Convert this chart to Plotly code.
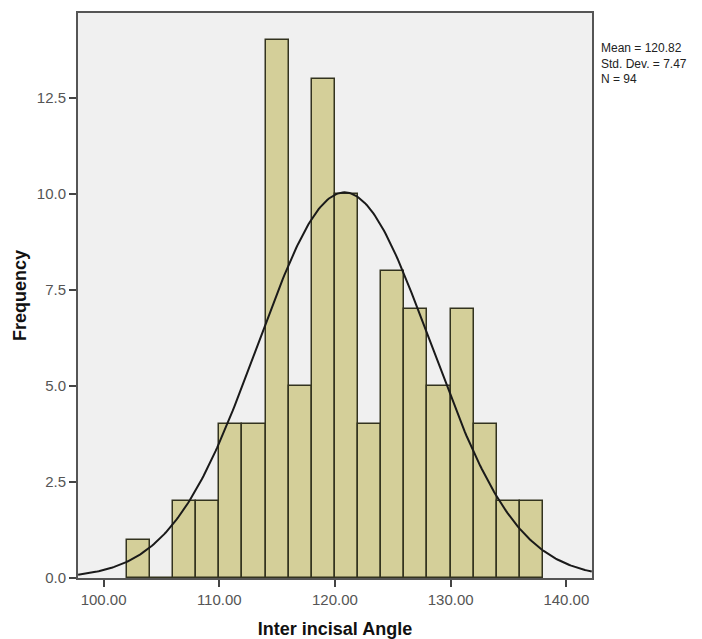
import numpy as np
import plotly.graph_objects as go

bin_starts = [102, 104, 106, 108, 110, 112, 114, 116, 118, 120, 122, 124, 126, 128, 130, 132, 134, 136]
counts = [1, 0, 2, 2, 4, 4, 14, 5, 13, 10, 4, 8, 7, 5, 7, 4, 2, 2]
bin_width = 2
mean_val = 120.82
sd_val = 7.47
n_val = 94
stats_lines = ["Mean = 120.82", "Std. Dev. = 7.47", "N = 94"]
x_ticks = [100, 110, 120, 130, 140]
x_tick_labels = ["100.00", "110.00", "120.00", "130.00", "140.00"]
y_ticks = [0, 2.5, 5, 7.5, 10, 12.5]
y_tick_labels = ["0.0", "2.5", "5.0", "7.5", "10.0", "12.5"]

centers = [s + bin_width / 2 for s in bin_starts]

xs = np.linspace(97.8, 142.2, 300)
ys = n_val * bin_width * np.exp(-0.5 * ((xs - mean_val) / sd_val) ** 2) / (sd_val * np.sqrt(2 * np.pi))

fig = go.Figure()
fig.add_trace(go.Bar(
    x=centers, y=counts, width=bin_width,
    marker=dict(color="#d4cf99", line=dict(color="#33331f", width=1.5)),
    hoverinfo="skip",
))
fig.add_trace(go.Scatter(
    x=xs, y=ys, mode="lines",
    line=dict(color="#1a1a1a", width=2),
    hoverinfo="skip",
))

plot_h = 639 - 13 - 61
fig.update_layout(
    width=702, height=639,
    margin=dict(l=78, r=110, t=13, b=61),
    paper_bgcolor="white",
    plot_bgcolor="#f0f0f0",
    showlegend=False,
    bargap=0,
    font=dict(family="Liberation Sans, Arial, sans-serif"),
    annotations=[dict(
        text="<br>".join(stats_lines), xref="paper", yref="paper",
        x=1.016, y=(639 - 61 - 40) / plot_h,
        xanchor="left", yanchor="top", align="left",
        showarrow=False, borderpad=0,
        font=dict(size=12, color="#222222"),
    )],
)

fig.update_xaxes(
    range=[97.79, 142.22],
    tickvals=x_ticks, ticktext=x_tick_labels,
    ticks="outside", ticklen=7, tickwidth=2, tickcolor="#444444",
    tickfont=dict(size=15, color="#555555"),
    showgrid=False, zeroline=False, automargin=False,
    showline=True, linecolor="#555555", linewidth=2, mirror=True,
    title=dict(text="<b>Inter incisal Angle</b>", font=dict(size=18, color="#111111"), standoff=17),
)
fig.update_yaxes(
    range=[0, 14.71],
    tickvals=y_ticks, ticktext=y_tick_labels,
    ticks="outside", ticklen=7, tickwidth=2, tickcolor="#444444",
    tickfont=dict(size=15, color="#555555"),
    showgrid=False, zeroline=False, automargin=False,
    showline=True, linecolor="#555555", linewidth=2, mirror=True,
    title=dict(text="<b>Frequency</b>", font=dict(size=18, color="#111111"), standoff=5),
)

fig.write_html("out.html")
